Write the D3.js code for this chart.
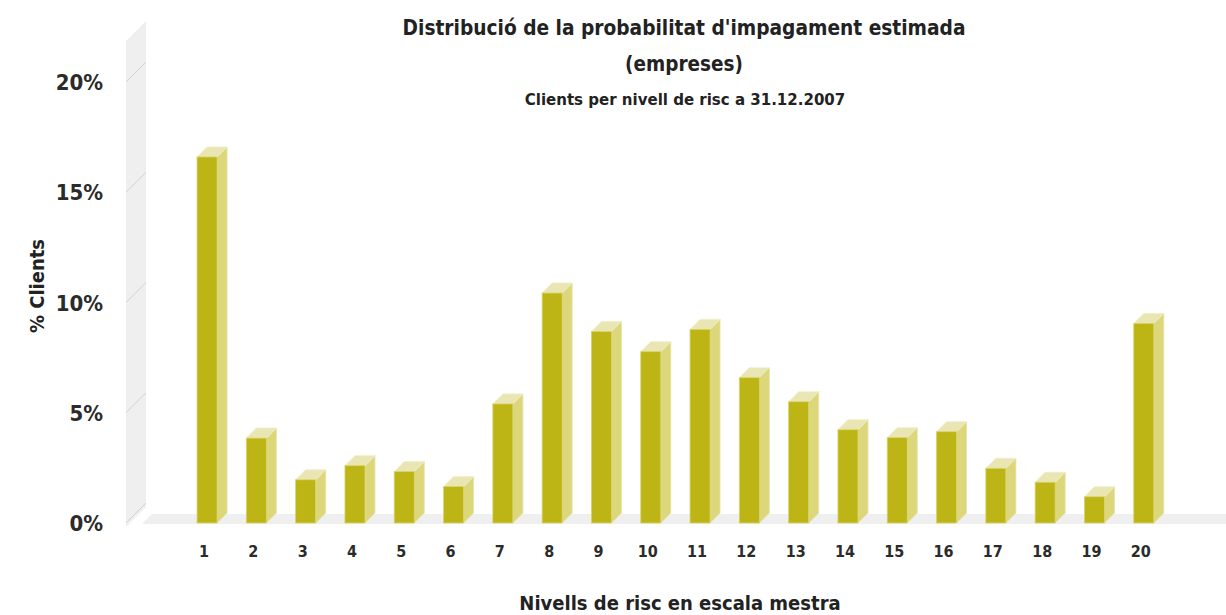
<!DOCTYPE html>
<html>
<head>
<meta charset="utf-8">
<script src="https://cdn.jsdelivr.net/npm/d3@7"></script>
<style>
  body { margin: 0; background: #fff; }
  svg { display: block; font-family: "DejaVu Sans Condensed", "DejaVu Sans", sans-serif; }
</style>
</head>
<body>
<div id="chart"></div>
<script>
// data
const levels = ["1","2","3","4","5","6","7","8","9","10","11","12","13","14","15","16","17","18","19","20"];
const clientPct = [16.6, 3.85, 1.96, 2.6, 2.33, 1.65, 5.4, 10.43, 8.68, 7.77, 8.78, 6.59, 5.5, 4.23, 3.87, 4.14, 2.48, 1.85, 1.19, 9.05];
const yTicks = [0, 5, 10, 15, 20];
const titleLines = ["Distribució de la probabilitat d'impagament estimada", "(empreses)"];
const subTitle = "Clients per nivell de risc a 31.12.2007";

const width = 1226, height = 615;
const depth = 10;        // 3d offset of the bars
const wallDepth = 20;    // 3d offset of the back wall

const svg = d3.select('#chart').append('svg')
  .attr('width', width)
  .attr('height', height);

//scales
const x = d3.scaleBand()
  .domain(levels)
  .range([182.4, 1168.4])
  .paddingInner(0.594)
  .paddingOuter(0.297);

const y = d3.scaleLinear()
  .domain([0, 20])
  .range([523, 82]);

const wallX = 126;

//back wall
svg.append('path')
  .attr('fill', '#efefef')
  .attr('d', `M${wallX},${y(20) - 41}L${wallX + wallDepth},${y(20) - 61}L${wallX + wallDepth},${y(0) - 16}L${wallX},${y(0) + 4}Z`);

//wall ticks
svg.append('g').selectAll('line')
  .data(yTicks)
  .join('line')
  .attr('x1', wallX).attr('y1', d => y(d))
  .attr('x2', wallX + wallDepth).attr('y2', d => y(d) - wallDepth)
  .attr('stroke', '#d2d2d2')
  .attr('stroke-width', 1);

//floor
svg.append('path')
  .attr('fill', '#efefef')
  .attr('d', `M142,${y(0) + 1}L${142 + depth},${y(0) - depth + 1}L${width},${y(0) - depth + 1}L${width},${y(0) + 1}Z`);

//y labels
svg.append('g').selectAll('text')
  .data(yTicks)
  .join('text')
  .attr('x', 103)
  .attr('y', d => y(d) + 8)
  .attr('text-anchor', 'end')
  .attr('font-size', 22)
  .attr('font-weight', 'bold')
  .attr('fill', '#2b2b2b')
  .text(d => d + '%');

//bars
const bars = svg.append('g').selectAll('g')
  .data(levels.map((l, i) => ({ level: l, value: clientPct[i] })))
  .join('g');

const bw = x.bandwidth();

// side face
bars.append('path')
  .attr('fill', '#dcd77a')
  .attr('stroke', '#e6e2a4')
  .attr('stroke-width', 0.8)
  .attr('d', d => {
    const x0 = x(d.level) + bw, y0 = y(d.value), yb = y(0);
    return `M${x0},${y0}L${x0 + depth},${y0 - depth}L${x0 + depth},${yb - depth}L${x0},${yb}Z`;
  });

// top face
bars.append('path')
  .attr('fill', '#e9e6b3')
  .attr('stroke', '#efedc6')
  .attr('stroke-width', 0.8)
  .attr('d', d => {
    const x0 = x(d.level), y0 = y(d.value);
    return `M${x0},${y0}L${x0 + depth},${y0 - depth}L${x0 + bw + depth},${y0 - depth}L${x0 + bw},${y0}Z`;
  });

// front face
bars.append('rect')
  .attr('x', d => x(d.level))
  .attr('y', d => y(d.value))
  .attr('width', bw)
  .attr('height', d => y(0) - y(d.value))
  .attr('fill', '#bdb516')
  .attr('stroke', '#d9d36a')
  .attr('stroke-width', 0.8);

//x labels
svg.append('g').selectAll('text')
  .data(levels)
  .join('text')
  .attr('x', d => x(d) + bw / 2 - 3)
  .attr('y', 557)
  .attr('text-anchor', 'middle')
  .attr('font-size', 16)
  .attr('font-weight', 'bold')
  .attr('fill', '#2b2b2b')
  .text(d => d);

//titles
svg.append('text')
  .attr('x', 684).attr('y', 35)
  .attr('text-anchor', 'middle')
  .attr('font-size', 20.7)
  .attr('font-weight', 'bold')
  .attr('fill', '#222')
  .text(titleLines[0]);

svg.append('text')
  .attr('x', 684).attr('y', 71)
  .attr('text-anchor', 'middle')
  .attr('font-size', 20.5)
  .attr('font-weight', 'bold')
  .attr('fill', '#222')
  .text(titleLines[1]);

svg.append('text')
  .attr('x', 685).attr('y', 105)
  .attr('text-anchor', 'middle')
  .attr('font-size', 16.7)
  .attr('font-weight', 'bold')
  .attr('fill', '#222')
  .text(subTitle);

//axis titles
svg.append('text')
  .attr('x', 680).attr('y', 610)
  .attr('text-anchor', 'middle')
  .attr('font-size', 20)
  .attr('font-weight', 'bold')
  .attr('fill', '#222')
  .text('Nivells de risc en escala mestra');

svg.append('text')
  .attr('transform', 'translate(44,286) rotate(-90)')
  .attr('text-anchor', 'middle')
  .attr('font-size', 20)
  .attr('font-weight', 'bold')
  .attr('fill', '#222')
  .text('% Clients');
</script>
</body>
</html>
